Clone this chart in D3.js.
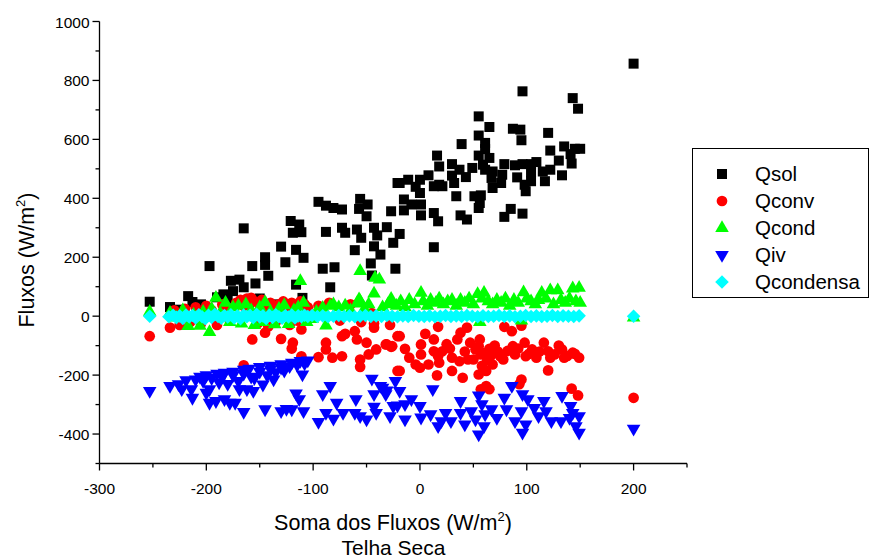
<!DOCTYPE html>
<html>
<head>
<meta charset="utf-8">
<script src="https://cdn.jsdelivr.net/npm/d3@7"></script>
<style>
  html, body { margin: 0; padding: 0; background: #fff; }
  svg text { font-family: "Liberation Sans", Arial, sans-serif; fill: #000; }
</style>
</head>
<body>
<svg id="chart" width="870" height="560"></svg>
<script>
// ---------------- DATA ----------------
const seriesNames = ["Qsol", "Qconv", "Qcond", "Qiv", "Qcondensa"];
const xTicks = [-300, -200, -100, 0, 100, 200];
const yTicks = [-400, -200, 0, 200, 400, 600, 800, 1000];

const qsol = [[-253,49],[-234,31],[-225,22],[-217,68],[-213,48],[-205,40],[-197,170],[-190,64],[-184,74],[-180,55],[-177,120],[-175,85],[-169,124],[-165,298],[-165,98],[-160,45],[-157,170],[-154,111],[-150,60],[-145,200],[-145,174],[-142,137],[-135,40],[-130,236],[-126,183],[-121,323],[-119,283],[-116,225],[-116,107],[-113,311],[-111,285],[-109,198],[-110,62],[-95,388],[-91,161],[-88,375],[-88,286],[-84,98],[-81,367],[-80,166],[-73,362],[-73,300],[-70,283],[-61,224],[-59,294],[-57,364],[-56,398],[-55,266],[-50,339],[-49,379],[-46,179],[-45,138],[-43,300],[-43,237],[-40,274],[-37,209],[-31,302],[-27,356],[-25,249],[-23,161],[-21,452],[-19,279],[-19,452],[-15,396],[-15,359],[-11,463],[-8,379],[-4,439],[0,463],[0,418],[1,379],[1,342],[8,478],[13,441],[13,350],[13,234],[16,545],[17,322],[18,508],[18,446],[21,441],[30,516],[30,477],[32,452],[34,407],[37,497],[38,342],[39,584],[43,472],[44,328],[49,503],[51,407],[55,678],[55,613],[55,545],[55,367],[56,384],[57,410],[59,514],[61,588],[61,567],[61,497],[65,642],[65,537],[67,469],[68,491],[68,435],[76,452],[77,480],[79,516],[79,337],[85,364],[87,636],[89,512],[91,471],[94,633],[95,597],[96,763],[96,516],[96,348],[98,446],[99,424],[104,516],[104,488],[104,458],[109,523],[115,491],[117,458],[120,622],[122,562],[122,497],[130,528],[133,478],[135,576],[141,550],[142,518],[143,740],[145,568],[148,704],[150,568],[200,857]];

const qconv = [[-253,-68],[-234,-39],[-230,20],[-225,-30],[-220,25],[-215,-20],[-210,30],[-205,-25],[-200,35],[-195,20],[-190,-30],[-185,40],[-180,30],[-178,-15],[-172,45],[-168,55],[-165,35],[-162,60],[-158,62],[-155,50],[-152,-25],[-150,40],[-148,55],[-145,30],[-142,-35],[-140,45],[-137,35],[-135,-20],[-132,40],[-128,50],[-125,30],[-122,-30],[-120,45],[-117,35],[-115,-15],[-112,50],[-108,40],[-105,30],[-95,35],[-85,45],[-75,-15],[-65,40],[-55,-20],[-45,10],[-43,-25],[-28,-30],[-157,-79],[-145,-56],[-130,-77],[-119,-90],[-120,-110],[-111,-45],[-111,-136],[-165,-167],[-95,-139],[-88,-90],[-88,-113],[-82,-141],[-73,-68],[-70,-60],[-73,-136],[-61,-51],[-59,-79],[-50,-90],[-48,-130],[-56,-147],[-56,-172],[-41,-113],[-43,-39],[-32,-96],[-26,-102],[-21,-186],[-21,-68],[-19,-68],[-31,-96],[-27,-104],[-14,-111],[-10,-141],[-19,-186],[-4,-164],[1,-96],[1,-130],[0,-175],[5,-60],[8,-164],[13,-79],[13,-119],[17,-136],[18,-158],[21,-119],[16,-201],[17,-36],[25,-95],[28,-110],[30,-186],[30,-141],[35,-79],[38,-56],[42,-120],[44,-39],[47,-90],[37,-153],[45,-147],[50,-147],[40,-209],[52,-113],[56,-79],[55,-102],[57,-130],[60,-125],[63,-150],[65,-111],[66,-136],[58,-169],[55,-198],[62,-186],[68,-164],[70,-100],[73,-120],[75,-136],[78,-147],[79,-36],[82,-118],[86,-51],[87,-102],[89,-130],[92,-110],[95,-32],[98,-90],[99,-136],[102,-128],[105,-113],[109,-141],[112,-120],[116,-90],[120,-119],[122,-141],[120,-184],[126,-130],[130,-100],[133,-113],[135,-141],[138,-135],[143,-124],[145,-128],[149,-141],[62,-237],[57,-248],[65,-248],[95,-215],[93,-231],[142,-246],[148,-269],[200,-277]];

const qcond = [[-253,15],[-234,11],[-228,-5],[-222,20],[-217,-34],[-212,5],[-206,-33],[-203,15],[-197,-54],[-195,25],[-191,62],[-187,10],[-182,45],[-178,-20],[-175,30],[-170,35],[-167,-25],[-163,40],[-158,20],[-155,-30],[-150,30],[-147,-20],[-145,47],[-140,15],[-136,-28],[-132,25],[-127,37],[-123,-27],[-118,20],[-114,30],[-112,119],[-109,45],[-106,-20],[-101,-10],[-97,15],[-91,28],[-88,-32],[-84,35],[-81,40],[-76,30],[-70,36],[-65,20],[-59,43],[-57,57],[-56,153],[-56,51],[-52,25],[-48,40],[-43,77],[-42,130],[-38,124],[-35,30],[-30,40],[-28,45],[-27,59],[-22,35],[-18,50],[-14,30],[-10,55],[-5,40],[1,79],[3,50],[7,35],[10,55],[15,45],[18,60],[22,40],[26,50],[30,55],[34,35],[38,55],[42,45],[46,60],[50,40],[54,75],[56,-20],[58,60],[60,79],[64,50],[68,40],[72,55],[76,45],[80,60],[84,35],[88,55],[92,45],[95,-15],[97,81],[100,60],[104,50],[108,40],[111,55],[114,79],[118,60],[122,88],[125,40],[129,88],[132,55],[136,45],[140,60],[143,94],[146,50],[149,96],[150,45],[200,-5]];

const qiv = [[-253,-254],[-234,-237],[-226,-231],[-219,-217],[-223,-248],[-214,-248],[-213,-277],[-206,-205],[-210,-215],[-203,-220],[-200,-200],[-197,-248],[-200,-260],[-197,-294],[-195,-210],[-191,-288],[-190,-195],[-188,-225],[-185,-205],[-183,-192],[-183,-282],[-180,-230],[-178,-294],[-175,-188],[-175,-200],[-173,-294],[-170,-220],[-169,-248],[-165,-182],[-165,-195],[-165,-325],[-162,-248],[-160,-178],[-158,-205],[-156,-254],[-155,-210],[-150,-172],[-150,-188],[-147,-232],[-145,-316],[-143,-200],[-140,-168],[-140,-180],[-137,-215],[-135,-190],[-130,-163],[-130,-175],[-130,-322],[-127,-185],[-125,-315],[-122,-170],[-120,-158],[-120,-316],[-116,-262],[-115,-165],[-113,-282],[-112,-152],[-110,-198],[-109,-322],[-108,-160],[-105,-150],[-95,-359],[-91,-265],[-88,-328],[-84,-237],[-81,-348],[-78,-294],[-72,-328],[-60,-282],[-61,-328],[-56,-339],[-50,-350],[-45,-212],[-43,-265],[-43,-307],[-41,-328],[-37,-237],[-35,-243],[-32,-265],[-31,-252],[-28,-339],[-25,-305],[-23,-220],[-21,-303],[-19,-254],[-14,-299],[-14,-350],[-8,-282],[0,-305],[1,-344],[10,-333],[12,-248],[17,-373],[20,-356],[24,-328],[29,-356],[38,-288],[38,-328],[42,-367],[48,-322],[52,-350],[55,-269],[55,-401],[58,-299],[61,-333],[60,-373],[67,-316],[72,-345],[79,-277],[81,-316],[86,-237],[89,-356],[95,-322],[96,-265],[96,-395],[99,-367],[101,-282],[107,-311],[111,-339],[116,-288],[118,-322],[123,-356],[133,-271],[132,-356],[140,-345],[141,-305],[143,-328],[146,-373],[149,-339],[149,-395],[200,-382]];

const qcondensa = [[-253,0],[-235,-2],[-231,3],[-228,-5],[-225,1],[-222,-8],[-219,4],[-216,-3],[-213,2],[-210,-6],[-207,5],[-204,-2],[-201,-9],[-198,3],[-195,-4],[-192,6],[-189,-1],[-186,-7],[-183,2],[-180,-3],[-177,5],[-174,-6],[-171,1],[-168,-9],[-165,4],[-162,-2],[-159,3],[-156,-5],[-153,6],[-150,-3],[-147,1],[-144,-8],[-141,3],[-138,-4],[-135,5],[-132,-2],[-129,-7],[-126,2],[-123,-3],[-120,4],[-117,-6],[-114,1],[-111,-2],[-108,3],[-105,-1],[-101,2],[-96,-1],[-91,1],[-86,-2],[-81,0],[-76,2],[-71,-1],[-66,1],[-61,-2],[-56,0],[-51,2],[-46,-1],[-41,1],[-36,-1],[-31,2],[-26,0],[-21,-2],[-16,1],[-11,-1],[-6,2],[-1,0],[4,-1],[9,1],[14,-2],[19,0],[24,2],[29,-1],[34,1],[39,-1],[44,2],[49,0],[54,-2],[59,1],[64,-1],[69,0],[74,2],[79,-1],[84,1],[89,-2],[94,0],[99,2],[104,-1],[109,1],[114,-1],[119,0],[124,2],[129,-1],[134,1],[139,0],[144,-1],[149,1],[200,0]];

// ---------------- CHART ----------------
const svg = d3.select("#chart");
const x = d3.scaleLinear().domain([-300, 250]).range([99.5, 687]);
const y = d3.scaleLinear().domain([-500, 1000]).range([463.5, 21.5]);

const series = [
  { name: seriesNames[0], data: qsol,      color: "#000000", sym: d3.symbolSquare,   size: 100 },
  { name: seriesNames[1], data: qconv,     color: "#ff0000", sym: d3.symbolCircle,   size: 90 },
  { name: seriesNames[2], data: qcond,     color: "#00ff00", sym: d3.symbolTriangle, size: 80, rot: 0 },
  { name: seriesNames[3], data: qiv,       color: "#0000ff", sym: d3.symbolTriangle, size: 80, rot: 180 },
  { name: seriesNames[4], data: qcondensa, color: "#00ffff", sym: d3.symbolSquare,   size: 92, rot: 45 }
];

// Axes
const xAxis = svg.append("g").attr("transform", `translate(0,${y(-500)})`);
xAxis.append("line").attr("x1", x(-300)).attr("x2", x(250)).attr("stroke", "#000").attr("stroke-width", 1.3);
const xMinor = d3.range(-250, 251, 100);
xAxis.selectAll(".xmaj").data(xTicks).join("line")
  .attr("x1", d => x(d)).attr("x2", d => x(d)).attr("y1", 0).attr("y2", 7)
  .attr("stroke", "#000").attr("stroke-width", 1.3);
xAxis.selectAll(".xmin").data(xMinor).join("line")
  .attr("x1", d => x(d)).attr("x2", d => x(d)).attr("y1", 0).attr("y2", 4)
  .attr("stroke", "#000").attr("stroke-width", 1.3);
xAxis.selectAll(".xlab").data(xTicks).join("text")
  .attr("x", d => x(d)).attr("y", 30).attr("text-anchor", "middle")
  .attr("font-size", "15.5px").text(d => d);

const yAxis = svg.append("g").attr("transform", `translate(${x(-300)},0)`);
yAxis.append("line").attr("y1", y(-500)).attr("y2", y(1000)).attr("stroke", "#000").attr("stroke-width", 1.3);
const yMinor = d3.range(-500, 1000, 200);
yAxis.selectAll(".ymaj").data(yTicks).join("line")
  .attr("y1", d => y(d)).attr("y2", d => y(d)).attr("x1", 0).attr("x2", -7)
  .attr("stroke", "#000").attr("stroke-width", 1.3);
yAxis.selectAll(".ymin").data(yMinor).join("line")
  .attr("y1", d => y(d)).attr("y2", d => y(d)).attr("x1", 0).attr("x2", -4)
  .attr("stroke", "#000").attr("stroke-width", 1.3);
yAxis.selectAll(".ylab").data(yTicks).join("text")
  .attr("x", -10).attr("y", d => y(d) + 6).attr("text-anchor", "end")
  .attr("font-size", "15.5px").text(d => d);

// Points
const plot = svg.append("g");
series.forEach(s => {
  const path = d3.symbol().type(s.sym).size(s.size)();
  plot.append("g").selectAll("path").data(s.data).join("path")
    .attr("d", path)
    .attr("transform", d => `translate(${x(d[0])},${y(d[1])})` + (s.rot ? ` rotate(${s.rot})` : ""))
    .attr("fill", s.color);
});

// Axis titles
const xt = svg.append("text").attr("x", 393).attr("y", 530).attr("text-anchor", "middle").attr("font-size", "21.5px");
xt.append("tspan").text("Soma dos Fluxos (W/m");
xt.append("tspan").attr("font-size", "13px").attr("dy", -9).text("2");
xt.append("tspan").attr("dy", 9).text(")");
svg.append("text").attr("x", 393.5).attr("y", 555).attr("text-anchor", "middle").attr("font-size", "21px").text("Telha Seca");

const yt = svg.append("text").attr("transform", "translate(34,260) rotate(-90)").attr("text-anchor", "middle").attr("font-size", "21.5px");
yt.append("tspan").text("Fluxos (W/m");
yt.append("tspan").attr("font-size", "13px").attr("dy", -9).text("2");
yt.append("tspan").attr("dy", 9).text(")");

// Legend
const lg = svg.append("g");
lg.append("rect").attr("x", 692.5).attr("y", 148.5).attr("width", 176).attr("height", 149)
  .attr("fill", "#fff").attr("stroke", "#000").attr("stroke-width", 1);
const rowY = d3.scalePoint().domain(seriesNames).range([174, 282]);
series.forEach(s => {
  const path = d3.symbol().type(s.sym).size(s.size)();
  lg.append("path").attr("d", path)
    .attr("transform", `translate(722,${rowY(s.name)})` + (s.rot ? ` rotate(${s.rot})` : ""))
    .attr("fill", s.color);
  lg.append("text").attr("x", 755).attr("y", rowY(s.name) + 7).attr("font-size", "20.5px").text(s.name);
});
</script>
</body>
</html>
